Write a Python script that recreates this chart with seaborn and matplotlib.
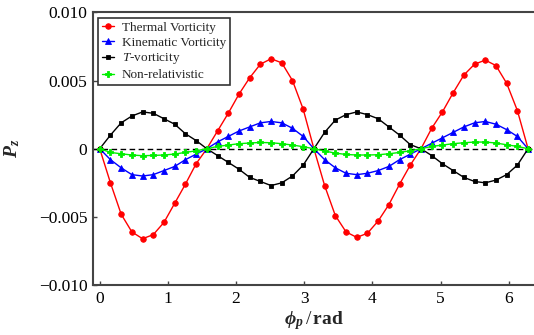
import numpy as np
import pandas as pd
import matplotlib
matplotlib.use("Agg")
import matplotlib.pyplot as plt
import seaborn as sns

# Sampling grid in azimuthal angle: 41 points over one full turn
phi = np.linspace(0, 2 * np.pi, 41)

thermal = [
    0.0, -0.0025, -0.0048, -0.0061, -0.0066, -0.0063, -0.0054, -0.0040, -0.0026, -0.0011,
    0.0, 0.0013, 0.0026, 0.0040, 0.0052, 0.0062, 0.0066, 0.0063, 0.0050, 0.0029,
    0.0, -0.0027, -0.0049, -0.0061, -0.0065, -0.0062, -0.0053, -0.0041, -0.0026, -0.0012,
    0.0, 0.0015, 0.0027, 0.0041, 0.0054, 0.0062, 0.0065, 0.0061, 0.0048, 0.0028,
    0.0,
]
kinematic = [
    0.0, -0.0008, -0.0014, -0.0019, -0.0020, -0.0019, -0.0016, -0.0013, -0.0008, -0.0004,
    0.0, 0.0005, 0.0009, 0.0013, 0.0016, 0.0019, 0.0020, 0.0019, 0.0015, 0.0009,
    0.0, -0.0008, -0.0014, -0.0018, -0.0019, -0.0018, -0.0016, -0.0013, -0.0008, -0.0004,
    0.0, 0.0004, 0.0008, 0.0012, 0.0016, 0.0019, 0.0020, 0.0018, 0.0014, 0.0009,
    0.0,
]
t_vort = [
    0.0, 0.0010, 0.0019, 0.0024, 0.0027, 0.0026, 0.0022, 0.0018, 0.0011, 0.0006,
    0.0, -0.0005, -0.0010, -0.0015, -0.0021, -0.0024, -0.0027, -0.0025, -0.0020, -0.0012,
    0.0, 0.0012, 0.0021, 0.0025, 0.0027, 0.0025, 0.0022, 0.0016, 0.0010, 0.0003,
    0.0, -0.0005, -0.0011, -0.0016, -0.0021, -0.0024, -0.0025, -0.0023, -0.0019, -0.0012,
    0.0,
]
nonrel = [
    0.0, -0.00027, -0.00037, -0.00046, -0.00051, -0.00049, -0.00046, -0.00039, -0.00027, -0.00015,
    0.0, 0.00017, 0.00027, 0.00037, 0.00042, 0.00046, 0.00044, 0.00037, 0.00027, 0.00015,
    0.0, -0.00017, -0.00032, -0.00042, -0.00046, -0.00046, -0.00044, -0.00037, -0.00027, -0.00015,
    0.0, 0.00017, 0.00027, 0.00037, 0.00044, 0.00049, 0.00049, 0.00042, 0.00029, 0.00017,
    0.0,
]

series_names = ["Thermal Vorticity", "Kinematic Vorticity", "$T$-vorticity", "Non-relativistic"]
series_values = [thermal, kinematic, t_vort, nonrel]
colors = ["#ff0000", "#0000ff", "#000000", "#00ee00"]
markers = ["o", "^", "s", "P"]
msizes = [4.0, 4.0, 3.0, 4.2]

sns.set_style("ticks")
plt.rcParams["font.family"] = ["Liberation Serif", "DejaVu Serif"]
plt.rcParams["mathtext.fontset"] = "custom"
plt.rcParams["mathtext.rm"] = "Liberation Serif"
plt.rcParams["mathtext.it"] = "Liberation Serif:italic"
plt.rcParams["mathtext.bf"] = "Liberation Serif:bold"
plt.rcParams["mathtext.bfit"] = "Liberation Serif:bold:italic"
plt.rcParams["axes.unicode_minus"] = True

fig = plt.figure(figsize=(5.34, 3.35), dpi=100)
ax = fig.add_axes([0.174, 0.149, 0.826, 0.814])

ax.axhline(0, color="black", lw=1.0, ls=(0, (4, 2.5)), zorder=1)

for name, vals, c, m, s in zip(series_names, series_values, colors, markers, msizes):
    df = pd.DataFrame({"phi": phi, "Pz": vals})
    sns.lineplot(data=df, x="phi", y="Pz", ax=ax, color=c, marker=m,
                 markersize=s, markeredgecolor=c, markeredgewidth=0.6,
                 lw=1.0, label=name, zorder=3)

ax.set_xlim(-0.1, 6.37)
ax.set_ylim(-0.010, 0.010)
ax.set_xticks([0, 1, 2, 3, 4, 5, 6])
ax.set_yticks([-0.010, -0.005, 0, 0.005, 0.010])
ax.set_yticklabels(["\u22120.010", "\u22120.005", "0", "0.005", "0.010"])
ax.tick_params(direction="in", length=3, width=1, labelsize=12.5, colors="#444444",
               labelcolor="black", pad=4)

for side in ["left", "bottom", "top"]:
    ax.spines[side].set_linewidth(1.5)
    ax.spines[side].set_color("#444444")
ax.spines["right"].set_visible(False)

ax.set_xlabel(r"$\mathbfit{\phi}_{\mathbfit{p}}\,/\,\mathbf{rad}$", fontsize=14, labelpad=2)
ax.set_ylabel(r"$\mathbfit{P}_{\mathbfit{z}}$", fontsize=14, labelpad=12)

leg = ax.legend(loc="upper left", fontsize=9.5, frameon=True, fancybox=False,
                edgecolor="black", handlelength=0.9, handletextpad=0.6,
                borderpad=0.3, labelspacing=0.2, borderaxespad=0.4)
leg.get_frame().set_linewidth(1.2)

fig.savefig("out.png", dpi=100)
